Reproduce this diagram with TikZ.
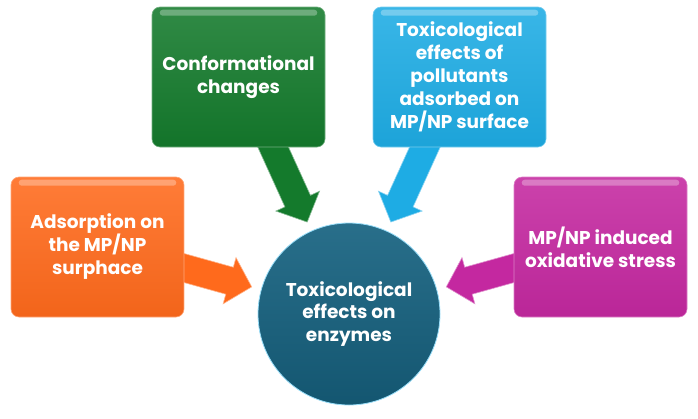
\documentclass[tikz,border=0pt]{standalone}
\usepackage{fontspec}
\setmainfont{Poppins}
\usetikzlibrary{calc, backgrounds}

\definecolor{confgreen}{RGB}{20,122,44}
\definecolor{polblue}{RGB}{30,172,228}
\definecolor{adsorange}{RGB}{255,106,28}
\definecolor{oximagenta}{RGB}{196,40,160}
\definecolor{enzteal}{RGB}{22,98,128}

\tikzset{
	effectbox/.style = {rounded corners = 8pt, minimum width = 173pt, minimum height = 140pt,
		align = center, text = white, font = \fontsize{18.5}{23}\selectfont\bfseries,
		top color = #1!88!white, bottom color = #1!95!black, draw = #1!60!white, line width = 0.6pt},
	enzyme/.style = {circle, minimum size = 182pt, inner sep = 0pt, align = center, text = white,
		font = \fontsize{18.5}{22.5}\selectfont\bfseries,
		top color = enzteal!92!white, bottom color = enzteal!88!black, draw = cyan!40!white, line width = 0.8pt}
}

% Block arrow: tail, tip, colour
\newcommand{\blockarrow}[3]{
	\coordinate (hb) at ($(#2)!23pt!(#1)$);
	\filldraw [fill = #3, draw = #3!50!white, line width = 0.6pt]
		($(#1)!14pt!90:(#2)$) -- ($(hb)!14pt!90:(#2)$) -- ($(hb)!24pt!90:(#2)$) -- (#2)
		-- ($(hb)!24pt!-90:(#2)$) -- ($(hb)!14pt!-90:(#2)$) -- ($(#1)!14pt!-90:(#2)$) -- cycle;
}

\begin{document}
\begin{tikzpicture}[x = 1pt, y = -1pt]

	\useasboundingbox (0, 0) rectangle (698, 418);

	% Central circle

	\node [enzyme] (enz) at (349, 314) {Toxicological\\effects on\\enzymes};

	% Boxes

	\node [effectbox = confgreen] (conf) at (238.5, 77) {Conformational\\changes};
	\node [effectbox = polblue] (pol) at (459.5, 77) {Toxicological\\effects of\\pollutants\\adsorbed on\\MP/NP surface};
	\node [effectbox = adsorange] (ads) at (97.5, 247) {Adsorption on\\the MP/NP\\surphace};
	\node [effectbox = oximagenta] (oxi) at (600.5, 247) {MP/NP induced\\oxidative stress};

	% Highlights on the boxes

	\foreach \b in {conf, pol, ads, oxi}
	{
		\fill [white, opacity = 0.3, rounded corners = 3pt]
			($(\b.north west) + (8, 3)$) rectangle ($(\b.north east) + (-8, 9)$);
	}

	% Exit points on the boxes

	\coordinate (cs) at ($(conf.south west)!0.7!(conf.south east)$);
	\coordinate (ps) at ($(pol.south east)!0.7!(pol.south west)$);
	\coordinate (as) at ($(ads.north east)!0.65!(ads.south east)$);
	\coordinate (os) at ($(oxi.north west)!0.65!(oxi.south west)$);

	% Arrows towards the enzyme

	\begin{scope}[on background layer]
		\blockarrow{$(enz.center)!1.12!(cs)$}{$(enz.center)!101pt!(cs)$}{confgreen}
		\blockarrow{$(enz.center)!1.12!(ps)$}{$(enz.center)!101pt!(ps)$}{polblue}
		\blockarrow{$(enz.center)!1.08!(as)$}{$(enz.center)!101pt!(as)$}{adsorange}
		\blockarrow{$(enz.center)!1.08!(os)$}{$(enz.center)!101pt!(os)$}{oximagenta}
	\end{scope}

\end{tikzpicture}
\end{document}
